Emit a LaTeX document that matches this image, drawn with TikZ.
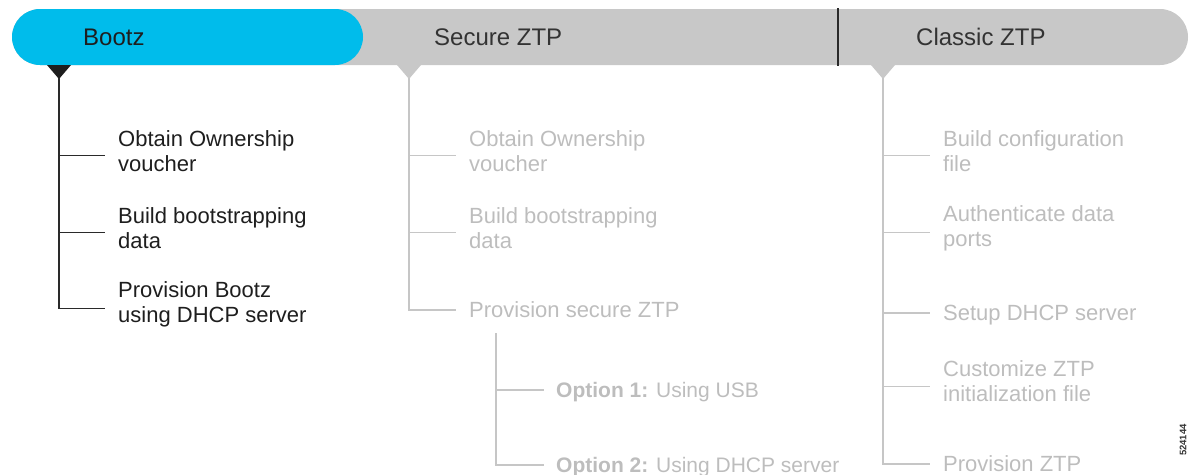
\documentclass[tikz,border=0pt]{standalone}
\usepackage{fontspec}
\setmainfont{Liberation Sans}
\usetikzlibrary{calc}
\definecolor{ciscoblue}{HTML}{00BCEB}
\definecolor{barGray}{HTML}{C8C8C8}
\definecolor{darkline}{HTML}{2A2A2A}
\definecolor{lightline}{HTML}{C6C6C6}
\definecolor{lighttext}{HTML}{BDBDBD}
\definecolor{darktext}{HTML}{1E1E1E}
\definecolor{headtext}{HTML}{333333}
\begin{document}
\begin{tikzpicture}[x=1pt,y=-1pt,
  head/.style={font=\fontsize{24}{28}\selectfont, text=headtext, anchor=west, inner sep=0pt},
  item/.style={font=\fontsize{22}{25}\selectfont, align=left, anchor=west, inner sep=0pt},
  activeitem/.style={item, text=darktext},
  passiveitem/.style={item, text=lighttext},
  optitem/.style={passiveitem, font=\fontsize{21}{25}\selectfont},
  activeline/.style={draw=darkline, line width=1.4pt},
  passiveline/.style={draw=lightline, line width=1.4pt}]
\useasboundingbox (0,0) rectangle (1193,474);
% bars
\fill[barGray, rounded corners=28pt] (12,9) rectangle (1188,65);
\fill[ciscoblue, rounded corners=28pt] (12,9) rectangle (363,65);
\draw[darkline, line width=1.5pt] (838,8) -- (838,66);
% headers
\node[head, text=darktext] (hb) at (83,37) {Bootz};
\node[head] (hs) at (434,37) {Secure ZTP};
\node[head] (hc) at (916,37) {Classic ZTP};
% triangles
\fill[darktext] (47,65) -- (71,65) -- (59,79) -- cycle;
\fill[barGray] (397,65) -- (421,65) -- (409,79) -- cycle;
\fill[barGray] (871,65) -- (895,65) -- (883,79) -- cycle;
\coordinate (tb) at (59,78);
\coordinate (ts) at (409,78);
\coordinate (tc) at (883,78);
% Bootz items
\node[activeitem] (b1) at (118,151.5) {Obtain Ownership\\voucher};
\node[activeitem] (b2) at (118,228.5) {Build bootstrapping\\data};
\node[activeitem] (b3) at (118,304.5) {Provision Bootz\\using DHCP server};
\foreach \n in {b1,b2,b3}
  \draw[activeline] (tb) |- ([xshift=-13pt,yshift=-4pt]\n.west);
% Secure ZTP items
\node[passiveitem] (s1) at (469,151.5) {Obtain Ownership\\voucher};
\node[passiveitem] (s2) at (469,228.5) {Build bootstrapping\\data};
\node[passiveitem, text height=16pt, text depth=0pt] (s3) at (469,309) {Provision secure ZTP};
\draw[passiveline] (ts) |- ([xshift=-13pt,yshift=-4pt]s1.west);
\draw[passiveline] (ts) |- ([xshift=-13pt,yshift=-4pt]s2.west);
\draw[passiveline] (ts) |- ([xshift=-13pt,yshift=-1pt]s3.west);
\coordinate (st) at (496,333);
\node[optitem, text height=16pt, text depth=0pt] (o1) at (556,389) {\textbf{Option 1:} Using USB};
\node[optitem, text height=16pt, text depth=0pt] (o2) at (556,464) {\textbf{Option 2:} Using DHCP server};
\draw[passiveline] (st) |- ([xshift=-12pt,yshift=-1pt]o1.west);
\draw[passiveline] (st) |- ([xshift=-12pt,yshift=-1pt]o2.west);
% Classic ZTP items
\node[passiveitem] (c1) at (943,151.5) {Build configuration\\file};
\node[passiveitem] (c2) at (943,228.5) {Authenticate data\\ports};
\node[passiveitem, text height=16pt, text depth=0pt] (c3) at (943,312) {Setup DHCP server};
\node[passiveitem] (c4) at (943,381.5) {Customize ZTP\\initialization file};
\node[passiveitem, text height=16pt, text depth=0pt] (c5) at (943,463) {Provision ZTP};
\draw[passiveline] (tc) |- ([xshift=-13pt,yshift=-4pt]c1.west);
\draw[passiveline] (tc) |- ([xshift=-13pt,yshift=-4pt]c2.west);
\draw[passiveline] (tc) |- ([xshift=-13pt,yshift=-1pt]c3.west);
\draw[passiveline] (tc) |- ([xshift=-13pt,yshift=-5pt]c4.west);
\draw[passiveline] (tc) |- ([xshift=-13pt,yshift=-1pt]c5.west);
% figure number
\node[font=\bfseries\fontsize{9.5}{10}\selectfont, text=headtext, rotate=90, inner sep=0pt] (fig) at (1183,440) {524144};
\end{tikzpicture}
\end{document}
